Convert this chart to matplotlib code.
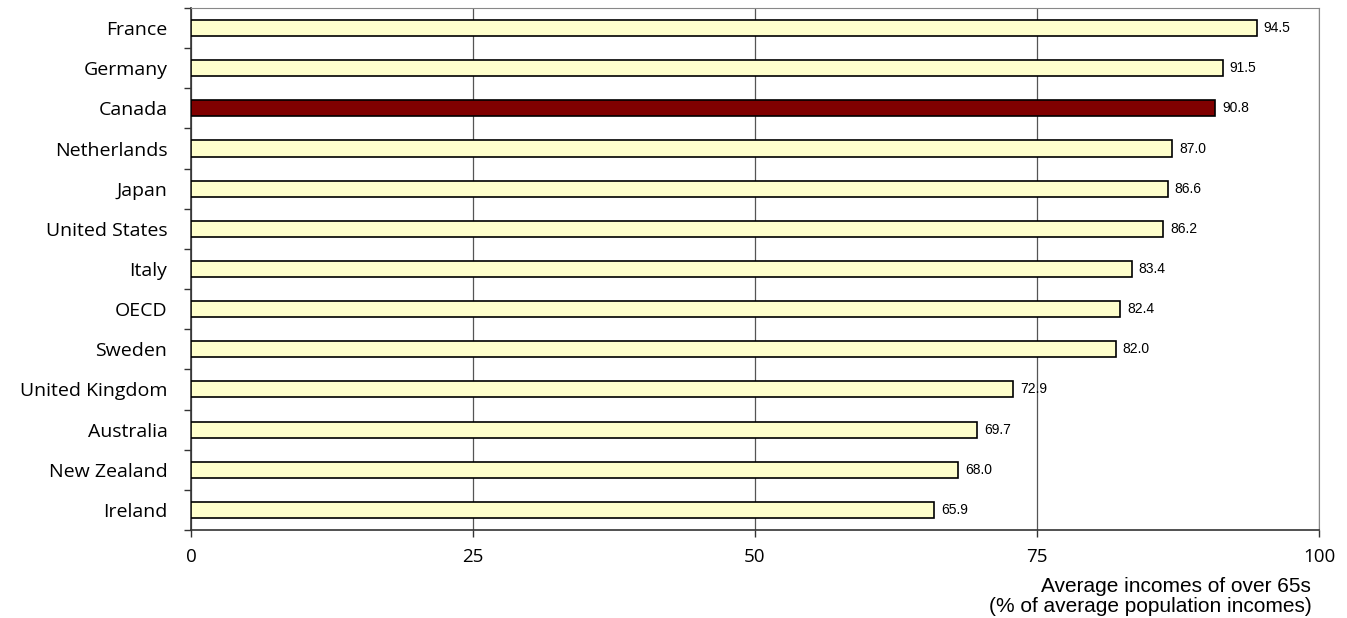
import matplotlib.pyplot as plt
from matplotlib.ticker import FixedLocator

countries = ['France', 'Germany', 'Canada', 'Netherlands', 'Japan', 'United States', 'Italy',
             'OECD', 'Sweden', 'United Kingdom', 'Australia', 'New Zealand', 'Ireland']
incomes = [94.5, 91.5, 90.8, 87.0, 86.6, 86.2, 83.4, 82.4, 82.0, 72.9, 69.7, 68.0, 65.9]
highlight = 'Canada'

fig = plt.figure(figsize=(13.47, 6.18), dpi=100)
ax = fig.add_axes([0.1418, 0.1424, 0.8374, 0.8447])

colors = ['#800000' if c == highlight else '#FFFFCC' for c in countries]
pos = list(range(len(countries)))
ax.barh(pos, incomes, height=0.4, color=colors, edgecolor='black', linewidth=1.2, zorder=3)

for i, v in enumerate(incomes):
    ax.text(v + 0.6, pos[i], f'{v:.1f}', va='center', ha='left', fontsize=10,
            family='Liberation Sans', zorder=4)

ax.set_xlim(0, 100)
ax.set_ylim(len(countries) - 0.5, -0.5)
ax.set_xticks([0, 25, 50, 75, 100])
ax.set_xticklabels(['0', '25', '50', '75', '100'], family='Open Sans', fontsize=13.5)
ax.set_yticks(pos)
ax.set_yticklabels(countries, family='Open Sans', fontsize=14)
ax.yaxis.set_minor_locator(FixedLocator([p - 0.5 for p in pos] + [len(countries) - 0.5]))
ax.tick_params(axis='y', which='major', length=0, pad=17)
ax.tick_params(axis='y', which='minor', length=5, width=1, color='#333333')
ax.tick_params(axis='x', which='major', length=5, width=1, color='#333333', pad=8)

ax.grid(axis='x', color='#555555', linewidth=0.9, zorder=0)
for s in ['top', 'right']:
    ax.spines[s].set_color('#888888')
for s in ['left', 'bottom']:
    ax.spines[s].set_color('#333333')
    ax.spines[s].set_linewidth(1.2)

fig.text(0.9735, 0.004, 'Average incomes of over 65s\n(% of average population incomes)',
         ha='right', va='bottom', fontsize=15, family='Liberation Sans', linespacing=1.02)

fig.savefig('out.png', dpi=100)
